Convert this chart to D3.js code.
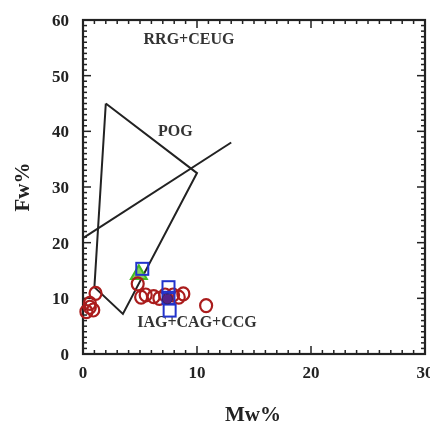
<!DOCTYPE html>
<html>
<head>
<meta charset="utf-8">
<script src="https://cdn.jsdelivr.net/npm/d3@7"></script>
<style>
  body { margin: 0; background: #fff; }
  svg text { font-family: "Liberation Serif", "DejaVu Serif", serif; }
  #chart { filter: blur(0.4px); }
</style>
</head>
<body>
<svg id="chart" width="430" height="425"></svg>
<script>
// field boundaries (Mw%, Fw%)
const pogField = [[2, 45], [10, 32.5], [3.5, 7.2], [1.0, 12], [2, 45]];
const divideLine = [[0, 20.8], [13, 38]];

// samples
const redCircles = [[0.3, 7.6], [0.6, 8.4], [0.9, 7.9], [0.6, 9.1], [1.1, 10.9], [4.8, 12.6],
  [5.1, 10.2], [5.5, 10.6], [6.2, 10.3], [6.7, 10.0], [7.2, 10.6], [7.9, 10.6], [8.4, 10.2],
  [8.8, 10.8], [10.8, 8.7]];
const blueSquares = [[5.2, 15.3], [7.5, 12.0], [7.6, 7.8], [7.5, 10.1]];
const greenTriangles = [[4.9, 14.3]];
const filledDots = [[7.4, 9.9]];

const fieldLabels = [
  {text: "RRG+CEUG", x: 9.3, y: 55.6},
  {text: "POG", x: 8.1, y: 39.2},
  {text: "IAG+CAG+CCG", x: 10.0, y: 4.9}
];

const xTicks = [0, 10, 20, 30];
const yTicks = [0, 10, 20, 30, 40, 50, 60];

const svg = d3.select("#chart");
const margin = {top: 20, right: 5, bottom: 71, left: 83};
const width = 430, height = 425;

const x = d3.scaleLinear().domain([0, 30]).range([margin.left, width - margin.right]);
const y = d3.scaleLinear().domain([0, 60]).range([height - margin.bottom, margin.top]);

const minorX = d3.range(0, 31, 1);
const minorY = d3.range(0, 61, 1);

// inward ticks on all four sides
const tickG = svg.append("g").attr("stroke", "#222").attr("stroke-width", 1.5);
minorX.forEach(v => {
  const len = v % 10 === 0 ? 8 : 4;
  tickG.append("line").attr("x1", x(v)).attr("x2", x(v)).attr("y1", y(0)).attr("y2", y(0) - len);
  tickG.append("line").attr("x1", x(v)).attr("x2", x(v)).attr("y1", y(60)).attr("y2", y(60) + len);
});
minorY.forEach(v => {
  const len = v % 10 === 0 ? 8 : 4;
  tickG.append("line").attr("y1", y(v)).attr("y2", y(v)).attr("x1", x(0)).attr("x2", x(0) + len);
  tickG.append("line").attr("y1", y(v)).attr("y2", y(v)).attr("x1", x(30)).attr("x2", x(30) - len);
});

svg.append("rect")
  .attr("x", x(0)).attr("y", y(60))
  .attr("width", x(30) - x(0)).attr("height", y(0) - y(60))
  .attr("fill", "none").attr("stroke", "#222").attr("stroke-width", 2.2);

// tick labels
svg.append("g").selectAll("text").data(xTicks).join("text")
  .attr("x", d => x(d)).attr("y", y(0) + 24)
  .attr("text-anchor", "middle").attr("font-size", 17).attr("font-weight", "bold")
  .attr("fill", "#222").text(d => d);
svg.append("g").selectAll("text").data(yTicks).join("text")
  .attr("x", x(0) - 14).attr("y", d => y(d) + 6)
  .attr("text-anchor", "end").attr("font-size", 17).attr("font-weight", "bold")
  .attr("fill", "#222").text(d => d);

// axis titles
svg.append("text").attr("x", 253).attr("y", 421)
  .attr("text-anchor", "middle").attr("font-size", 21).attr("font-weight", "bold")
  .attr("fill", "#222").text("Mw%");
svg.append("text").attr("transform", `translate(29,187) rotate(-90)`)
  .attr("text-anchor", "middle").attr("font-size", 21).attr("font-weight", "bold")
  .attr("fill", "#222").text("Fw%");

// field boundaries
const line = d3.line().x(d => x(d[0])).y(d => y(d[1]));
svg.append("path").datum(pogField).attr("d", line)
  .attr("fill", "none").attr("stroke", "#222").attr("stroke-width", 2).attr("stroke-linejoin", "miter");
svg.append("path").datum(divideLine).attr("d", line)
  .attr("fill", "none").attr("stroke", "#222").attr("stroke-width", 2);

svg.append("g").selectAll("text").data(fieldLabels).join("text")
  .attr("x", d => x(d.x)).attr("y", d => y(d.y))
  .attr("text-anchor", "middle").attr("font-size", 16).attr("font-weight", "bold")
  .attr("fill", "#333").text(d => d.text);

// samples
svg.append("g").selectAll("path").data(greenTriangles).join("path")
  .attr("d", d3.symbol(d3.symbolTriangle, 110))
  .attr("transform", d => `translate(${x(d[0])},${y(d[1])})`)
  .attr("fill", "#88d060").attr("stroke", "#44bb22").attr("stroke-width", 2);

svg.append("g").selectAll("ellipse").data(redCircles).join("ellipse")
  .attr("cx", d => x(d[0])).attr("cy", d => y(d[1]))
  .attr("rx", 6).attr("ry", 6.5)
  .attr("fill", "none").attr("stroke", "#aa1c1c").attr("stroke-width", 2.2);

svg.append("g").selectAll("rect").data(blueSquares).join("rect")
  .attr("x", d => x(d[0]) - 6).attr("y", d => y(d[1]) - 6)
  .attr("width", 12).attr("height", 12)
  .attr("fill", "none").attr("stroke", "#2233cc").attr("stroke-width", 2);

svg.append("g").selectAll("circle").data(filledDots).join("circle")
  .attr("cx", d => x(d[0])).attr("cy", d => y(d[1])).attr("r", 5)
  .attr("fill", "#552288").attr("stroke", "#332266");
</script>
</body>
</html>
